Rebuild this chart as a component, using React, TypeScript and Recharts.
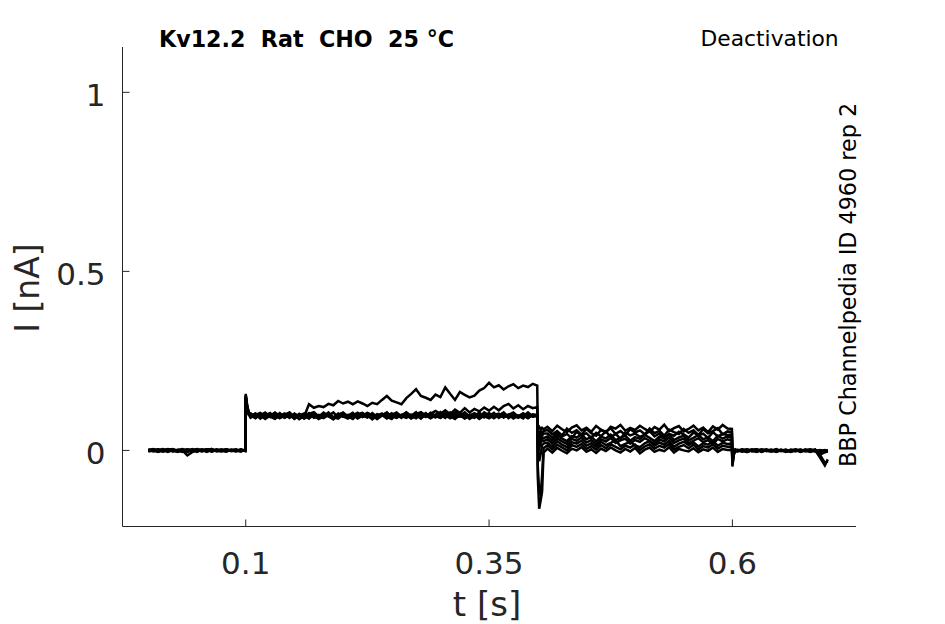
import { LineChart, Line, XAxis, YAxis } from 'recharts'

// time grid [s], split at the voltage steps
const timeHold = [
  0, 0.005, 0.01, 0.015, 0.02, 0.025, 0.03, 0.035, 0.04, 0.045,
  0.05, 0.055, 0.06, 0.065, 0.07, 0.075, 0.08, 0.085, 0.09, 0.095, 0.0995,
]
const timeStep = [
  0.1, 0.1015, 0.103,
  0.105, 0.11, 0.115, 0.12, 0.125, 0.13, 0.135, 0.14, 0.145, 0.15,
  0.155, 0.16, 0.165, 0.17, 0.175, 0.18, 0.185, 0.19, 0.195, 0.2,
  0.205, 0.21, 0.215, 0.22, 0.225, 0.23, 0.235, 0.24, 0.245, 0.25,
  0.255, 0.26, 0.265, 0.27, 0.275, 0.28, 0.285, 0.29, 0.295, 0.3,
  0.305, 0.31, 0.315, 0.32, 0.325, 0.33, 0.335, 0.34, 0.345, 0.35,
  0.355, 0.36, 0.365, 0.37, 0.375, 0.38, 0.385, 0.39, 0.395,
  0.3995,
]
const timeTail = [
  0.4, 0.4015, 0.403, 0.4045, 0.406,
  0.41, 0.415, 0.42, 0.425, 0.43, 0.435, 0.44, 0.445, 0.45, 0.455,
  0.46, 0.465, 0.47, 0.475, 0.48, 0.485, 0.49, 0.495, 0.5, 0.505,
  0.51, 0.515, 0.52, 0.525, 0.53, 0.535, 0.54, 0.545, 0.55, 0.555,
  0.56, 0.565, 0.57, 0.575, 0.58, 0.585, 0.59, 0.595,
  0.5995,
]
const timePost = [
  0.6, 0.6015, 0.603,
  0.605, 0.61, 0.615, 0.62, 0.625, 0.63, 0.635, 0.64, 0.645, 0.65,
  0.655, 0.66, 0.665, 0.67, 0.675, 0.68, 0.685, 0.69, 0.695,
  0.698,
]

// current traces [nA], one sub-array per segment: hold, step, tail, post
const traceA = [
  [0.003, -0.002, 0.001, 0.004, -0.003, 0.0, -0.004, 0.002, 0.001, -0.003, 0.002, -0.001, 0.003, -0.002, 0.0, 0.003, -0.002, 0.001, -0.001, 0.002, 0.0],
  [0.152, 0.121, 0.106,
    0.103, 0.093, 0.1, 0.09, 0.101, 0.094, 0.104, 0.092, 0.098, 0.089,
    0.102, 0.095, 0.129, 0.119, 0.124, 0.121, 0.13, 0.126, 0.138, 0.131,
    0.136, 0.129, 0.137, 0.131, 0.124, 0.133, 0.129, 0.141, 0.152, 0.139,
    0.134, 0.129, 0.146, 0.158, 0.171, 0.152, 0.147, 0.141, 0.156, 0.149,
    0.176, 0.158, 0.141, 0.163, 0.155, 0.148, 0.153, 0.167, 0.174, 0.189,
    0.176, 0.182, 0.17, 0.179, 0.185, 0.174, 0.181, 0.177, 0.186,
    0.181],
  [0.062, 0.066, 0.058, 0.063, 0.059,
    0.066, 0.054, 0.069, 0.059, 0.051, 0.064, 0.07, 0.056, 0.063, 0.052,
    0.068, 0.058, 0.05, 0.066, 0.061, 0.071, 0.055, 0.063, 0.057, 0.069,
    0.06, 0.052, 0.065, 0.058, 0.072, 0.054, 0.062, 0.068, 0.053, 0.06,
    0.069, 0.056, 0.064, 0.051, 0.067, 0.058, 0.071, 0.061,
    0.06],
  [-0.01, 0.002, -0.003,
    0.001, -0.003, 0.002, -0.001, 0.003, -0.004, 0.0, 0.002, -0.002, 0.001,
    -0.003, 0.002, 0.0, -0.002, 0.003, -0.001, 0.001, -0.004, 0.0,
    -0.002],
]
const traceB = [
  [-0.002, 0.001, 0.003, -0.001, 0.002, -0.003, 0.001, 0.004, -0.002, 0.0, -0.004, 0.002, 0.001, -0.003, 0.003, 0.0, -0.001, 0.002, -0.003, 0.001, -0.001],
  [0.158, 0.126, 0.108,
    0.095, 0.103, 0.092, 0.1, 0.094, 0.104, 0.09, 0.098, 0.105, 0.093,
    0.1, 0.089, 0.097, 0.104, 0.092, 0.101, 0.096, 0.09, 0.103, 0.094,
    0.099, 0.091, 0.101, 0.105, 0.093, 0.099, 0.088, 0.1, 0.096, 0.104,
    0.092, 0.098, 0.106, 0.094, 0.101, 0.107, 0.097, 0.103, 0.11, 0.102,
    0.112, 0.101, 0.114, 0.105, 0.118, 0.106, 0.116, 0.109, 0.12, 0.111,
    0.122, 0.112, 0.124, 0.13, 0.117, 0.126, 0.115, 0.124, 0.118,
    0.121],
  [0.05, 0.045, 0.055, 0.049, 0.054,
    0.057, 0.045, 0.054, 0.042, 0.061, 0.049, 0.056, 0.044, 0.06, 0.048,
    0.041, 0.057, 0.052, 0.062, 0.046, 0.054, 0.043, 0.059, 0.05, 0.056,
    0.045, 0.061, 0.048, 0.055, 0.041, 0.058, 0.051, 0.046, 0.06, 0.049,
    0.056, 0.043, 0.059, 0.048, 0.054, 0.062, 0.045, 0.053,
    0.051],
  [-0.02, -0.004, 0.001,
    -0.002, 0.002, -0.004, 0.001, -0.001, 0.003, -0.002, 0.0, -0.003, 0.002,
    -0.001, -0.004, 0.001, 0.002, -0.002, 0.0, -0.003, 0.001, -0.002,
    0.0],
]
const traceC = [
  [0.001, 0.004, -0.002, 0.0, 0.003, -0.001, -0.003, 0.002, 0.0, 0.004, -0.002, 0.001, -0.004, 0.002, -0.001, 0.001, 0.003, -0.002, 0.0, -0.003, 0.002],
  [0.147, 0.117, 0.104,
    0.103, 0.091, 0.098, 0.106, 0.094, 0.088, 0.1, 0.095, 0.104, 0.09,
    0.097, 0.093, 0.102, 0.107, 0.095, 0.09, 0.099, 0.087, 0.096, 0.103,
    0.094, 0.101, 0.089, 0.097, 0.105, 0.098, 0.091, 0.1, 0.094, 0.088,
    0.102, 0.096, 0.106, 0.092, 0.099, 0.089, 0.103, 0.095, 0.1, 0.091,
    0.101, 0.094, 0.107, 0.098, 0.09, 0.1, 0.096, 0.104, 0.092, 0.101,
    0.094, 0.097, 0.105, 0.09, 0.099, 0.095, 0.103, 0.091, 0.098,
    0.096],
  [0.04, 0.03, 0.046, 0.041, 0.047,
    0.047, 0.036, 0.05, 0.039, 0.046, 0.034, 0.052, 0.041, 0.048, 0.035,
    0.049, 0.04, 0.053, 0.037, 0.046, 0.033, 0.05, 0.042, 0.047, 0.038,
    0.044, 0.054, 0.039, 0.048, 0.034, 0.046, 0.041, 0.052, 0.045, 0.036,
    0.05, 0.042, 0.047, 0.035, 0.051, 0.039, 0.046, 0.043,
    0.044],
  [-0.03, -0.008, 0.0,
    0.002, -0.001, -0.004, 0.001, 0.003, -0.002, 0.0, -0.003, 0.002, -0.001,
    0.001, -0.002, 0.003, -0.004, 0.0, 0.002, -0.001, -0.003, 0.001,
    -0.001],
]
const traceD = [
  [-0.003, 0.0, 0.002, -0.002, 0.004, 0.001, -0.001, -0.004, 0.003, 0.0, 0.002, -0.002, 0.001, 0.004, -0.003, -0.001, 0.002, 0.0, 0.003, -0.002, 0.001],
  [0.144, 0.113, 0.101,
    0.095, 0.103, 0.089, 0.099, 0.093, 0.105, 0.097, 0.091, 0.101, 0.088,
    0.098, 0.094, 0.104, 0.093, 0.09, 0.1, 0.097, 0.106, 0.092, 0.099,
    0.095, 0.088, 0.101, 0.094, 0.104, 0.098, 0.09, 0.099, 0.105, 0.095,
    0.091, 0.1, 0.094, 0.097, 0.107, 0.09, 0.099, 0.096, 0.092, 0.103,
    0.098, 0.09, 0.101, 0.095, 0.106, 0.093, 0.099, 0.088, 0.097, 0.104,
    0.096, 0.101, 0.092, 0.099, 0.106, 0.094, 0.098, 0.09, 0.1,
    0.097],
  [0.032, 0.018, 0.03, 0.037, 0.034,
    0.039, 0.028, 0.042, 0.033, 0.026, 0.04, 0.036, 0.045, 0.031, 0.038,
    0.025, 0.039, 0.033, 0.044, 0.029, 0.035, 0.041, 0.027, 0.037, 0.032,
    0.043, 0.035, 0.026, 0.039, 0.033, 0.045, 0.029, 0.036, 0.041, 0.028,
    0.035, 0.043, 0.031, 0.037, 0.026, 0.041, 0.033, 0.039,
    0.035],
  [-0.045, -0.012, -0.002,
    -0.001, 0.003, -0.002, 0.0, 0.002, -0.003, 0.001, -0.001, 0.004, -0.002,
    0.0, 0.001, -0.003, 0.002, -0.001, 0.003, -0.002, 0.0, -0.003,
    0.001],
]
const traceE = [
  [0.002, -0.001, -0.004, 0.001, 0.003, -0.002, 0.002, 0.0, -0.003, 0.001, 0.004, -0.001, 0.002, -0.003, 0.001, -0.002, 0.003, 0.0, -0.001, 0.002, -0.002],
  [0.15, 0.119, 0.103,
    0.091, 0.099, 0.105, 0.095, 0.1, 0.089, 0.097, 0.103, 0.093, 0.099,
    0.087, 0.096, 0.103, 0.091, 0.099, 0.095, 0.106, 0.093, 0.089, 0.1,
    0.097, 0.105, 0.091, 0.099, 0.094, 0.101, 0.088, 0.097, 0.104, 0.095,
    0.1, 0.091, 0.105, 0.097, 0.09, 0.101, 0.095, 0.104, 0.093, 0.099,
    0.091, 0.106, 0.095, 0.1, 0.089, 0.097, 0.104, 0.094, 0.1, 0.096,
    0.105, 0.091, 0.099, 0.094, 0.101, 0.097, 0.089, 0.103, 0.095,
    0.098],
  [0.024, 0.006, 0.02, 0.029, 0.026,
    0.031, 0.02, 0.034, 0.025, 0.018, 0.032, 0.027, 0.036, 0.022, 0.029,
    0.017, 0.031, 0.025, 0.035, 0.021, 0.028, 0.033, 0.019, 0.029, 0.024,
    0.034, 0.027, 0.018, 0.031, 0.025, 0.036, 0.021, 0.028, 0.033, 0.02,
    0.027, 0.034, 0.023, 0.029, 0.018, 0.032, 0.025, 0.031,
    0.027],
  [-0.035, -0.006, 0.002,
    0.0, -0.003, 0.002, -0.001, -0.004, 0.001, 0.003, -0.002, 0.0, 0.002,
    -0.003, 0.001, -0.001, 0.002, -0.002, 0.0, 0.003, -0.012, -0.005,
    -0.003],
]
const traceF = [
  [-0.001, 0.002, 0.0, -0.003, 0.001, 0.004, -0.002, 0.0, -0.014, -0.005, 0.001, 0.003, -0.002, 0.0, 0.002, -0.001, -0.003, 0.002, 0.0, -0.002, 0.001],
  [0.141, 0.112, 0.1,
    0.098, 0.09, 0.101, 0.094, 0.103, 0.096, 0.091, 0.099, 0.106, 0.093,
    0.1, 0.089, 0.097, 0.104, 0.092, 0.099, 0.095, 0.087, 0.101, 0.105,
    0.094, 0.099, 0.091, 0.103, 0.096, 0.089, 0.101, 0.097, 0.106, 0.092,
    0.099, 0.094, 0.103, 0.089, 0.097, 0.1, 0.093, 0.105, 0.096, 0.091,
    0.1, 0.095, 0.088, 0.103, 0.097, 0.093, 0.101, 0.091, 0.106, 0.098,
    0.09, 0.099, 0.104, 0.094, 0.097, 0.091, 0.101, 0.095, 0.099,
    0.095],
  [0.01, -0.03, -0.01, 0.015, 0.019,
    0.022, 0.011, 0.026, 0.016, 0.009, 0.023, 0.019, 0.027, 0.013, 0.02,
    0.01, 0.024, 0.015, 0.021, 0.028, 0.012, 0.018, 0.024, 0.014, 0.009,
    0.02, 0.026, 0.013, 0.022, 0.016, 0.027, 0.01, 0.019, 0.024, 0.015,
    0.023, 0.011, 0.02, 0.016, 0.026, 0.013, 0.021, 0.018,
    0.019],
  [-0.02, -0.003, 0.001,
    -0.002, 0.001, 0.003, -0.003, 0.0, 0.002, -0.001, 0.001, -0.004, 0.0,
    0.002, -0.002, 0.001, -0.003, 0.0, 0.002, -0.001, -0.01, -0.004,
    -0.002],
]
const traceG = [
  [0.0, 0.003, -0.002, 0.001, -0.004, 0.002, 0.0, -0.001, 0.003, -0.002, 0.001, -0.003, 0.002, 0.004, -0.001, 0.0, -0.003, 0.001, 0.002, -0.001, 0.0],
  [0.155, 0.123, 0.107,
    0.101, 0.093, 0.099, 0.088, 0.097, 0.105, 0.095, 0.1, 0.091, 0.103,
    0.095, 0.099, 0.089, 0.101, 0.094, 0.106, 0.097, 0.091, 0.102, 0.095,
    0.089, 0.098, 0.105, 0.093, 0.1, 0.087, 0.097, 0.103, 0.091, 0.099,
    0.106, 0.094, 0.097, 0.09, 0.101, 0.095, 0.104, 0.091, 0.099, 0.107,
    0.093, 0.1, 0.089, 0.097, 0.105, 0.095, 0.091, 0.103, 0.097, 0.09,
    0.1, 0.095, 0.106, 0.092, 0.099, 0.094, 0.103, 0.097, 0.1,
    0.099],
  [-0.04, -0.118, -0.124, -0.07, 0.006,
    0.014, 0.003, 0.016, 0.008, 0.0, 0.015, 0.01, 0.018, 0.004, 0.012,
    0.002, 0.015, 0.006, 0.017, 0.01, 0.003, 0.013, 0.008, 0.016, 0.001,
    0.011, 0.017, 0.005, 0.013, 0.008, 0.018, 0.002, 0.01, 0.015, 0.006,
    0.016, 0.003, 0.012, 0.008, 0.017, 0.005, 0.013, 0.01,
    0.011],
  [-0.04, -0.01, 0.0,
    0.001, -0.002, 0.0, 0.003, -0.003, 0.001, -0.001, 0.002, -0.002, 0.0,
    -0.004, 0.001, 0.002, -0.001, 0.0, -0.003, 0.001, -0.02, -0.042,
    -0.025],
]
const traceH = [
  [0.001, -0.002, 0.002, -0.003, 0.0, 0.003, -0.001, 0.001, -0.004, 0.002, -0.001, 0.0, 0.003, -0.002, 0.001, -0.003, 0.002, 0.0, -0.002, 0.003, -0.001],
  [0.149, 0.116, 0.102,
    0.093, 0.1, 0.091, 0.097, 0.104, 0.089, 0.099, 0.095, 0.105, 0.091,
    0.097, 0.103, 0.094, 0.099, 0.088, 0.095, 0.101, 0.091, 0.097, 0.106,
    0.095, 0.09, 0.1, 0.097, 0.092, 0.104, 0.094, 0.099, 0.089, 0.097,
    0.103, 0.096, 0.091, 0.1, 0.094, 0.106, 0.097, 0.09, 0.099, 0.095,
    0.104, 0.092, 0.099, 0.094, 0.101, 0.088, 0.097, 0.105, 0.095, 0.091,
    0.099, 0.103, 0.093, 0.1, 0.089, 0.097, 0.095, 0.106, 0.094,
    0.096],
  [-0.07, -0.163, -0.14, -0.115, -0.006,
    0.005, -0.006, 0.007, -0.001, -0.008, 0.005, 0.0, 0.009, -0.004, 0.003,
    -0.007, 0.005, -0.002, 0.008, 0.0, -0.006, 0.004, -0.003, 0.007, -0.008,
    0.002, 0.008, -0.004, 0.002, -0.002, 0.009, -0.006, 0.004, 0.0, -0.003,
    0.006, -0.005, 0.003, -0.001, 0.008, -0.004, 0.004, 0.001,
    0.002],
  [-0.025, -0.004, 0.002,
    -0.003, 0.0, -0.004, 0.001, 0.002, -0.002, 0.0, -0.003, 0.001, -0.001,
    0.002, -0.003, 0.0, -0.002, 0.001, -0.004, 0.0, -0.012, -0.035,
    -0.03],
]

const segTimes = [timeHold, timeStep, timeTail, timePost]
const traces = [traceA, traceB, traceC, traceD, traceE, traceF, traceG, traceH]
const traceKeys = ['a', 'b', 'c', 'd', 'e', 'f', 'g', 'h']

const xTicks = [0.1, 0.35, 0.6]
const xTickLabels = ['0.1', '0.35', '0.6']
const yTicks = [0, 0.5, 1]
const yTickLabels = ['0', '0.5', '1']

const rows = segTimes.flatMap((times, s) =>
  times.map((t, k) => {
    const row: Record<string, number> = { t }
    traces.forEach((tr, j) => {
      row[traceKeys[j]] = tr[s][k]
    })
    return row
  })
)

const AXIS = '#262626'
const FONT = '"DejaVu Sans", Verdana, sans-serif'

const XTick = ({ x, y, payload }: any) => {
  const i = xTicks.indexOf(payload.value)
  return (
    <g>
      <line x1={x} x2={x} y1={y} y2={y - 7} stroke={AXIS} strokeWidth={1} />
      <text x={x} y={y + 47} textAnchor="middle" fontSize={31} fill={AXIS} fontFamily={FONT}>
        {xTickLabels[i]}
      </text>
    </g>
  )
}

const YTick = ({ x, y, payload }: any) => {
  const i = yTicks.indexOf(payload.value)
  return (
    <g>
      <line x1={x} x2={x + 7} y1={y} y2={y} stroke={AXIS} strokeWidth={1} />
      <text x={x - 17} y={y + 14} textAnchor="end" fontSize={31} fill={AXIS} fontFamily={FONT}>
        {yTickLabels[i]}
      </text>
    </g>
  )
}

export default function App() {
  return (
    <div style={{ position: 'absolute', left: 0, top: 0, width: 945, height: 624, background: '#fff' }}>
      <LineChart width={945} height={624} data={rows} margin={{ top: 47, right: 89, bottom: 0, left: 0 }}>
        <XAxis
          dataKey="t"
          type="number"
          domain={[-0.0266, 0.727]}
          allowDataOverflow
          ticks={xTicks}
          tick={<XTick />}
          tickLine={false}
          tickSize={0}
          tickMargin={0}
          height={97.5}
          axisLine={{ stroke: AXIS, strokeWidth: 1 }}
          interval={0}
        />
        <YAxis
          type="number"
          domain={[-0.2125, 1.1266]}
          allowDataOverflow
          ticks={yTicks}
          tick={<YTick />}
          tickLine={false}
          tickSize={0}
          tickMargin={0}
          width={122.5}
          axisLine={{ stroke: AXIS, strokeWidth: 1 }}
          interval={0}
        />
        {traceKeys.map((k) => (
          <Line
            key={k}
            dataKey={k}
            type="linear"
            stroke="#000"
            strokeWidth={2.5}
            dot={false}
            activeDot={false}
            isAnimationActive={false}
          />
        ))}
      </LineChart>
      <svg width={945} height={624} style={{ position: 'absolute', left: 0, top: 0, pointerEvents: 'none' }}>
        <text x={159} y={46.5} fontSize={22.2} fontWeight="bold" fill="#000" fontFamily={FONT} style={{ whiteSpace: 'pre' }}>
          {'Kv12.2  Rat  CHO  25 °C'}
        </text>
        <text x={700.5} y={46} fontSize={21.8} fill="#000" fontFamily={FONT}>
          Deactivation
        </text>
        <text
          x={856}
          y={467}
          fontSize={22.3}
          fill="#000"
          fontFamily={FONT}
          transform="rotate(-90 856 467)"
        >
          BBP Channelpedia ID 4960 rep 2
        </text>
        <text
          x={38.5}
          y={288}
          fontSize={33}
          fill={AXIS}
          fontFamily={FONT}
          textAnchor="middle"
          transform="rotate(-90 38.5 288)"
        >
          I [nA]
        </text>
        <text x={487} y={616} fontSize={34} fill={AXIS} fontFamily={FONT} textAnchor="middle">
          t [s]
        </text>
      </svg>
    </div>
  )
}
